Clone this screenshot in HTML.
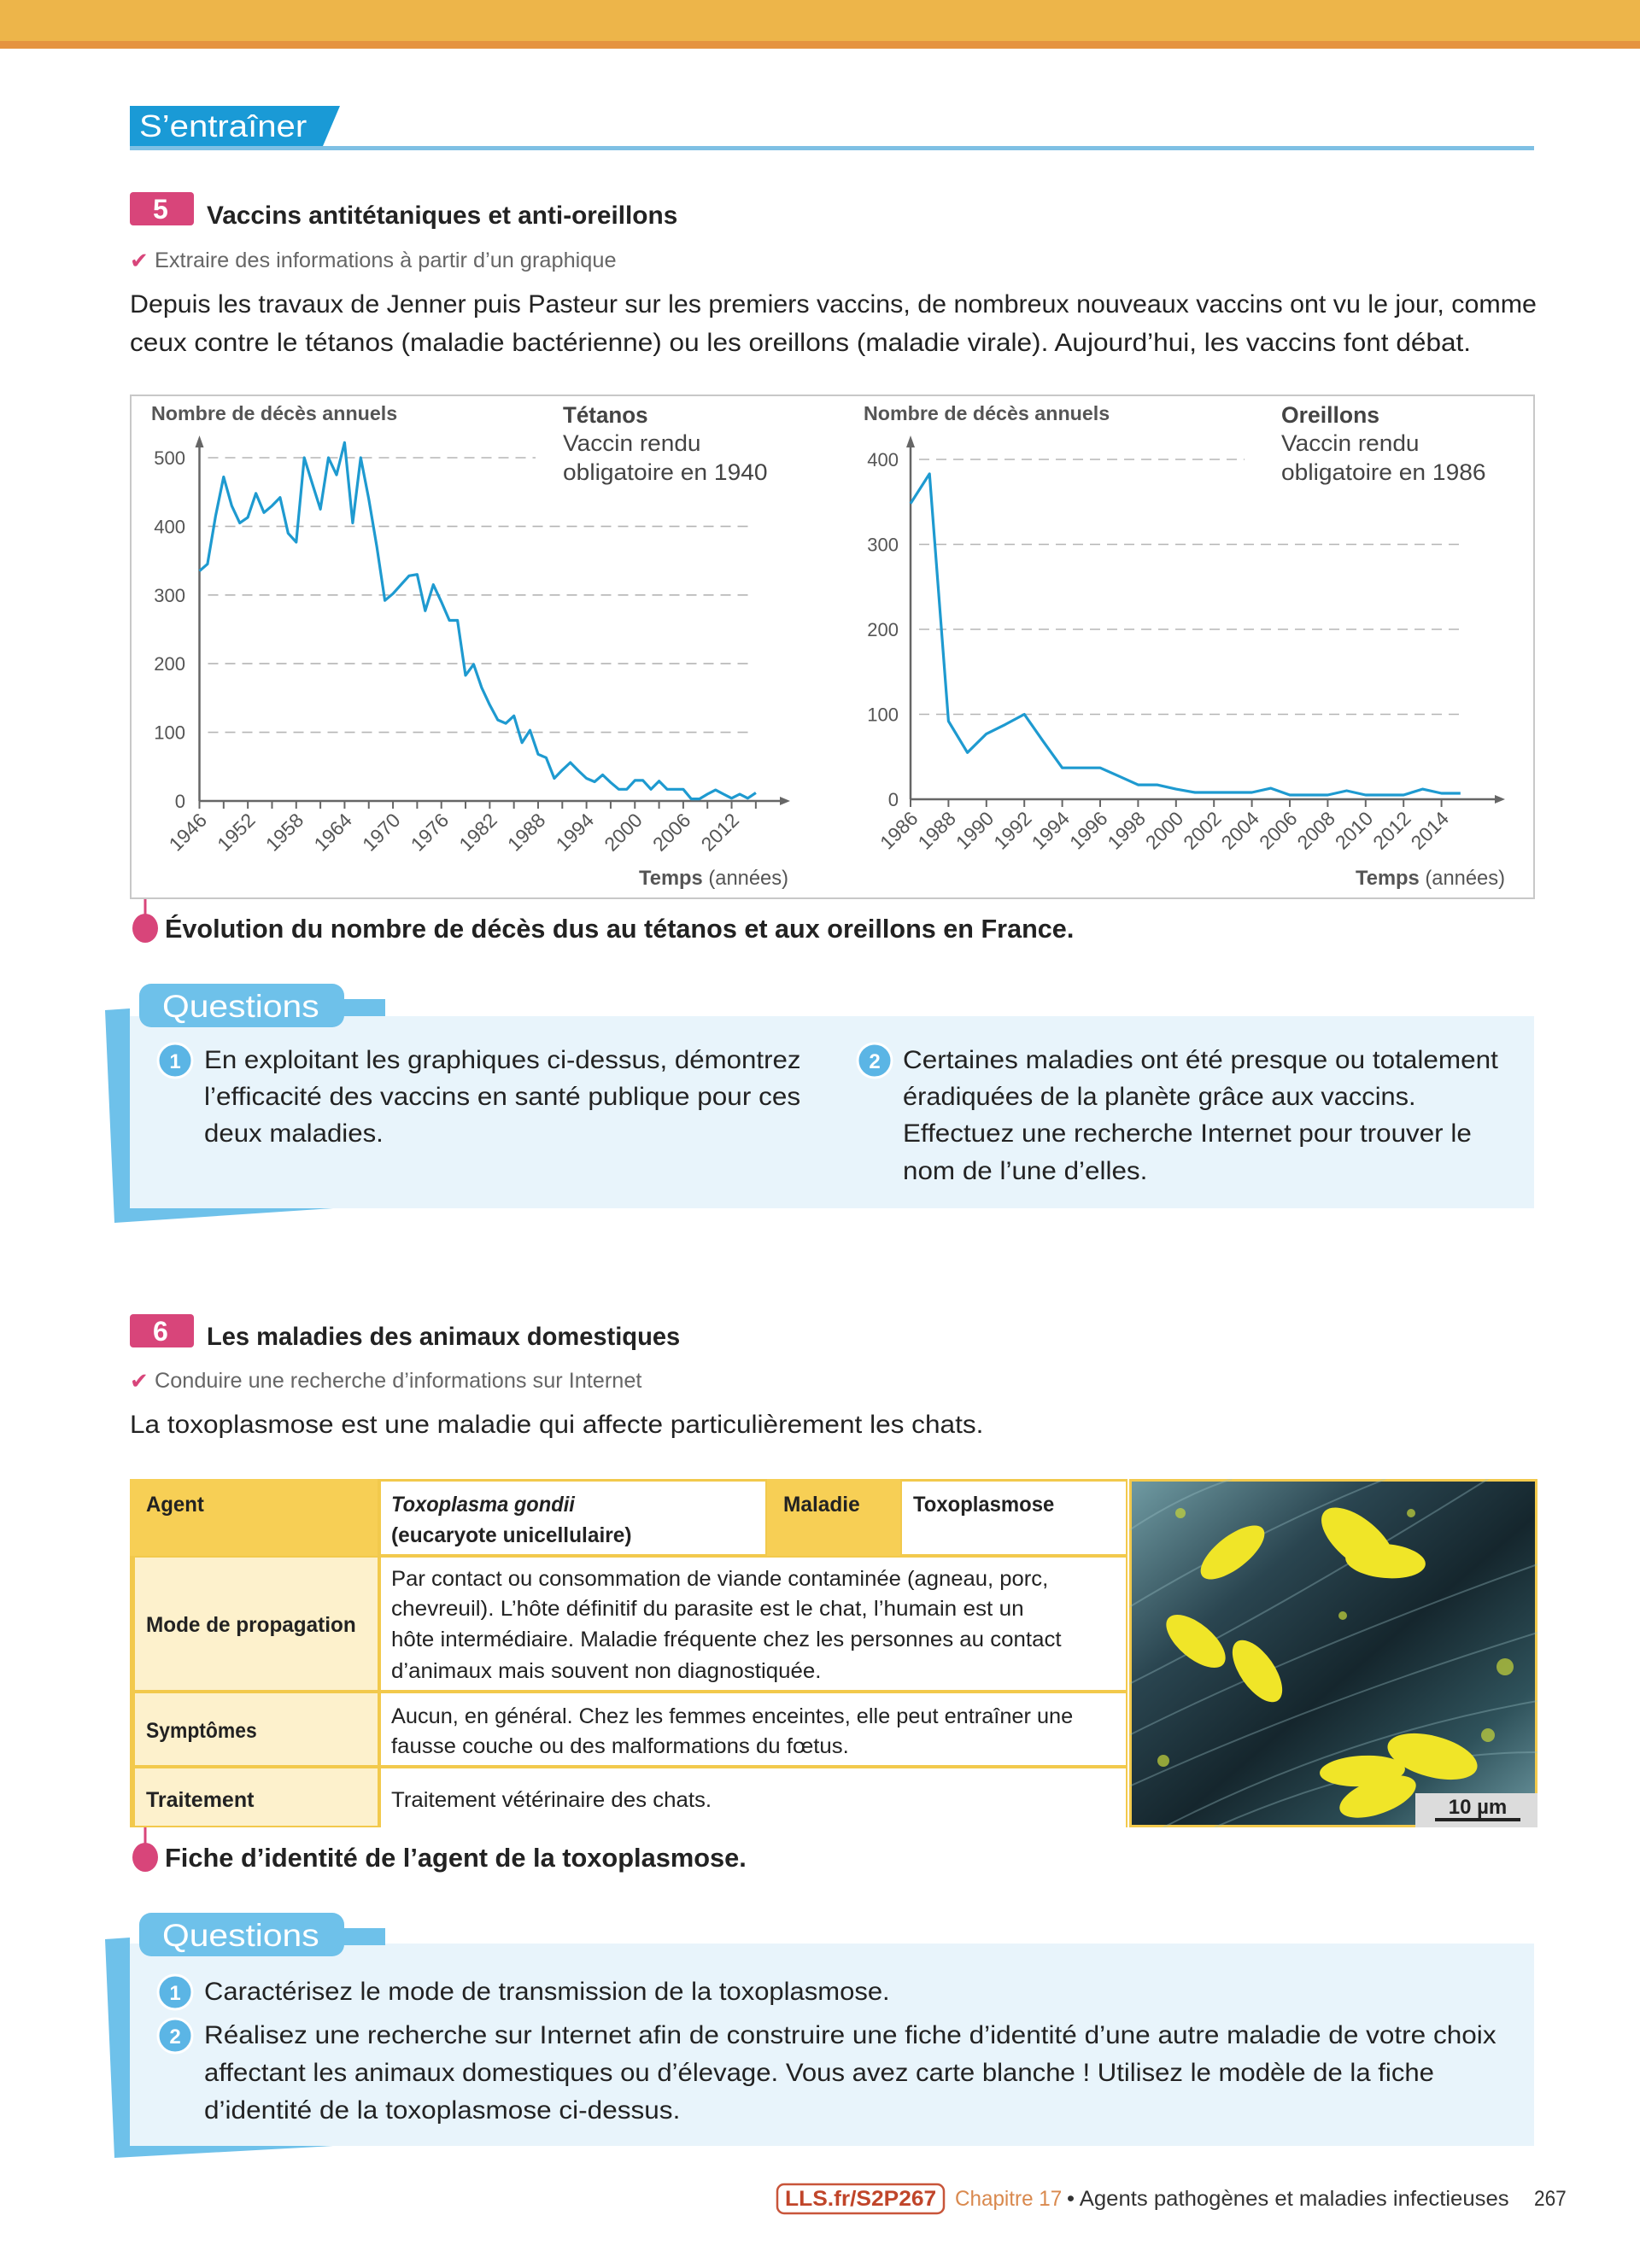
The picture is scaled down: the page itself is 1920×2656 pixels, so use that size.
<!DOCTYPE html>
<html><head><meta charset="utf-8">
<style>
*{margin:0;padding:0;box-sizing:border-box}
body{width:1920px;height:2656px;position:relative;background:#fff;font-family:"Liberation Sans",sans-serif;color:#222;overflow:hidden}
.t{position:absolute;white-space:nowrap;transform-origin:0 50%;line-height:1}
.b{font-weight:bold}
.abs{position:absolute}
</style></head><body>
<div class="abs" style="left:0;top:0;width:1920px;height:48px;background:#EDB54A"></div>
<div class="abs" style="left:0;top:48px;width:1920px;height:9px;background:#E59340"></div>

<svg class="abs" style="left:0;top:0" width="1920" height="2656">
  <polygon points="152,124 398,124 378,171 152,171" fill="#1A9AD6"/>
  <rect x="152" y="171" width="1644" height="5" fill="#7EC0E4"/>
  <rect x="152" y="225" width="75" height="39" rx="4" fill="#D8457A"/>
  <rect x="152" y="1539" width="75" height="39" rx="4" fill="#D8457A"/>
  <rect x="152" y="1190" width="1644" height="225" fill="#E8F4FB"/>
  <polygon points="123,1183 152,1181 152,1415 390,1415 134,1432" fill="#6EC1EA"/>
  <rect x="395" y="1170" width="56" height="20" fill="#6EC1EA"/>
  <rect x="163" y="1152" width="240" height="51" rx="14" fill="#6EC1EA"/>
  <rect x="152" y="2276" width="1644" height="237" fill="#E8F4FB"/>
  <polygon points="123,2271 152,2269 152,2513 390,2513 134,2527" fill="#6EC1EA"/>
  <rect x="395" y="2258" width="56" height="20" fill="#6EC1EA"/>
  <rect x="163" y="2240" width="240" height="51" rx="14" fill="#6EC1EA"/>
  <g fill="#5BB5E5" stroke="#fff" stroke-width="3">
    <circle cx="205" cy="1242" r="20"/>
    <circle cx="1024" cy="1242" r="20"/>
    <circle cx="205" cy="2333" r="20"/>
    <circle cx="205" cy="2384" r="20"/>
  </g>
  <g fill="#fff" font-family="Liberation Sans" font-weight="bold" font-size="24" text-anchor="middle">
    <text x="205" y="1251">1</text><text x="1024" y="1251">2</text>
    <text x="205" y="2342">1</text><text x="205" y="2393">2</text>
  </g>
  <line x1="170" y1="1052" x2="170" y2="1078" stroke="#D8457A" stroke-width="3"/>
  <ellipse cx="170" cy="1087" rx="15" ry="17" fill="#D8457A"/>
  <line x1="170" y1="2140" x2="170" y2="2166" stroke="#D8457A" stroke-width="3"/>
  <ellipse cx="170" cy="2175" rx="15" ry="17" fill="#D8457A"/>
  <rect x="910" y="2558" width="195" height="34" rx="8" fill="none" stroke="#C8553A" stroke-width="2.5"/>
  <rect x="153" y="463" width="1643" height="589" fill="none" stroke="#c8c8c8" stroke-width="2"/>
</svg>

<svg id="charts" class="abs" style="left:0;top:0" width="1920" height="1100"></svg>

<div class="t" style="left:163px;top:148px;font-size:36px;color:#fff" data-w="196">S’entraîner</div>
<div class="t b" style="left:179px;top:245px;font-size:32px;color:#fff">5</div>
<div class="t b" style="left:242px;top:253px;font-size:30px" data-w="551">Vaccins antitétaniques et anti-oreillons</div>
<div class="t" style="left:152px;top:305px;font-size:26px;color:#D8457A">✔</div>
<div class="t" style="left:181px;top:305px;font-size:25px;color:#666" data-w="541">Extraire des informations à partir d’un graphique</div>
<div class="t" style="left:152px;top:357px;font-size:30px" data-w="1647">Depuis les travaux de Jenner puis Pasteur sur les premiers vaccins, de nombreux nouveaux vaccins ont vu le jour, comme</div>
<div class="t" style="left:152px;top:402px;font-size:30px" data-w="1570">ceux contre le tétanos (maladie bactérienne) ou les oreillons (maladie virale). Aujourd’hui, les vaccins font débat.</div>

<div class="t b" style="left:177px;top:484px;font-size:23px;color:#555" data-w="288">Nombre de décès annuels</div>
<div class="t b" style="left:659px;top:486px;font-size:27px;color:#444" data-w="100">Tétanos</div>
<div class="t" style="left:659px;top:519px;font-size:27px;color:#444" data-w="162">Vaccin rendu</div>
<div class="t" style="left:659px;top:553px;font-size:27px;color:#444" data-w="240">obligatoire en 1940</div>
<div class="t" style="left:748px;top:1029px;font-size:24px;color:#555" data-w="175"><b>Temps</b> (années)</div>
<div class="t b" style="left:1011px;top:484px;font-size:23px;color:#555" data-w="288">Nombre de décès annuels</div>
<div class="t b" style="left:1500px;top:486px;font-size:27px;color:#444" data-w="115">Oreillons</div>
<div class="t" style="left:1500px;top:519px;font-size:27px;color:#444" data-w="162">Vaccin rendu</div>
<div class="t" style="left:1500px;top:553px;font-size:27px;color:#444" data-w="240">obligatoire en 1986</div>
<div class="t" style="left:1587px;top:1029px;font-size:24px;color:#555" data-w="175"><b>Temps</b> (années)</div>

<div class="t b" style="left:193px;top:1087px;font-size:31px" data-w="1064">Évolution du nombre de décès dus au tétanos et aux oreillons en France.</div>

<div class="t" style="left:190px;top:1178px;font-size:37px;color:#fff" data-w="184">Questions</div>
<div class="t" style="left:239px;top:1242px;font-size:30px" data-w="698">En exploitant les graphiques ci-dessus, démontrez</div>
<div class="t" style="left:239px;top:1285px;font-size:30px" data-w="698">l’efficacité des vaccins en santé publique pour ces</div>
<div class="t" style="left:239px;top:1328px;font-size:30px" data-w="210">deux maladies.</div>
<div class="t" style="left:1057px;top:1242px;font-size:30px" data-w="697">Certaines maladies ont été presque ou totalement</div>
<div class="t" style="left:1057px;top:1285px;font-size:30px" data-w="600">éradiquées de la planète grâce aux vaccins.</div>
<div class="t" style="left:1057px;top:1328px;font-size:30px" data-w="666">Effectuez une recherche Internet pour trouver le</div>
<div class="t" style="left:1057px;top:1372px;font-size:30px" data-w="287">nom de l’une d’elles.</div>

<div class="t b" style="left:179px;top:1559px;font-size:32px;color:#fff">6</div>
<div class="t b" style="left:242px;top:1566px;font-size:30px" data-w="554">Les maladies des animaux domestiques</div>
<div class="t" style="left:152px;top:1617px;font-size:26px;color:#D8457A">✔</div>
<div class="t" style="left:181px;top:1617px;font-size:25px;color:#666" data-w="570">Conduire une recherche d’informations sur Internet</div>
<div class="t" style="left:152px;top:1669px;font-size:30px" data-w="999">La toxoplasmose est une maladie qui affecte particulièrement les chats.</div>

<div class="abs" style="left:152px;top:1732px;width:1168px;height:408px;background:#F2C94C"></div>
<div class="abs" style="left:152px;top:1732px;width:290px;height:90px;background:#F7CF55"></div>
<div class="abs" style="left:446px;top:1735px;width:450px;height:85px;background:#fff"></div>
<div class="abs" style="left:898px;top:1732px;width:156px;height:90px;background:#F7CF55"></div>
<div class="abs" style="left:1056px;top:1735px;width:262px;height:85px;background:#fff"></div>
<div class="abs" style="left:158px;top:1824px;width:284px;height:155px;background:#FDF1CC"></div>
<div class="abs" style="left:446px;top:1824px;width:872px;height:155px;background:#fff"></div>
<div class="abs" style="left:158px;top:1983px;width:284px;height:84px;background:#FDF1CC"></div>
<div class="abs" style="left:446px;top:1983px;width:872px;height:84px;background:#fff"></div>
<div class="abs" style="left:158px;top:2071px;width:284px;height:67px;background:#FDF1CC"></div>
<div class="abs" style="left:446px;top:2071px;width:872px;height:69px;background:#fff"></div>

<div class="t b" style="left:171px;top:1762px;font-size:25px" data-w="68">Agent</div>
<div class="t b" style="left:458px;top:1762px;font-size:25px;font-style:italic" data-w="215">Toxoplasma gondii</div>
<div class="t b" style="left:458px;top:1798px;font-size:25px" data-w="282">(eucaryote unicellulaire)</div>
<div class="t b" style="left:917px;top:1762px;font-size:25px" data-w="90">Maladie</div>
<div class="t b" style="left:1069px;top:1762px;font-size:25px" data-w="165">Toxoplasmose</div>
<div class="t b" style="left:171px;top:1903px;font-size:25px" data-w="246">Mode de propagation</div>
<div class="t" style="left:458px;top:1849px;font-size:25px" data-w="769">Par contact ou consommation de viande contaminée (agneau, porc,</div>
<div class="t" style="left:458px;top:1884px;font-size:25px" data-w="741">chevreuil). L’hôte définitif du parasite est le chat, l’humain est un</div>
<div class="t" style="left:458px;top:1920px;font-size:25px" data-w="785">hôte intermédiaire. Maladie fréquente chez les personnes au contact</div>
<div class="t" style="left:458px;top:1957px;font-size:25px" data-w="503">d’animaux mais souvent non diagnostiquée.</div>
<div class="t b" style="left:171px;top:2027px;font-size:25px" data-w="130">Symptômes</div>
<div class="t" style="left:458px;top:2010px;font-size:25px" data-w="798">Aucun, en général. Chez les femmes enceintes, elle peut entraîner une</div>
<div class="t" style="left:458px;top:2045px;font-size:25px" data-w="536">fausse couche ou des malformations du fœtus.</div>
<div class="t b" style="left:171px;top:2108px;font-size:25px" data-w="126">Traitement</div>
<div class="t" style="left:458px;top:2108px;font-size:25px" data-w="375">Traitement vétérinaire des chats.</div>

<svg class="abs" style="left:1322px;top:1732px" width="478" height="408">
  <defs>
    <linearGradient id="bg" x1="0" y1="0" x2="1" y2="1">
      <stop offset="0" stop-color="#6f9aa2"/><stop offset="0.3" stop-color="#2a4550"/>
      <stop offset="0.55" stop-color="#15262d"/><stop offset="0.8" stop-color="#2f525b"/><stop offset="1" stop-color="#6c97a0"/>
    </linearGradient>
  </defs>
  <rect x="0" y="0" width="478" height="408" fill="#F2C94C"/>
  <rect x="3" y="3" width="472" height="402" fill="url(#bg)"/>
  <g stroke="#9cc3c8" stroke-width="2" opacity="0.35" fill="none">
    <path d="M0 300 Q200 200 478 100"/><path d="M0 360 Q220 260 478 180"/><path d="M40 408 Q250 300 478 260"/><path d="M0 150 Q150 60 300 0"/>
    <path d="M0 240 Q180 150 420 0"/><path d="M100 408 Q300 320 478 320"/><path d="M0 60 Q60 20 120 0"/>
  </g>
  <g fill="#c8d63a" opacity="0.7">
    <circle cx="420" cy="300" r="8"/><circle cx="440" cy="220" r="10"/><circle cx="60" cy="40" r="6"/><circle cx="330" cy="40" r="5"/><circle cx="250" cy="160" r="5"/><circle cx="40" cy="330" r="7"/>
  </g>
  <g fill="#F0E528">
    <ellipse cx="121" cy="86" rx="45" ry="19" transform="rotate(-38 121 86)"/>
    <ellipse cx="268" cy="72" rx="52" ry="25" transform="rotate(40 268 72)"/>
    <ellipse cx="300" cy="96" rx="47" ry="20" transform="rotate(5 300 96)"/>
    <ellipse cx="78" cy="190" rx="42" ry="20" transform="rotate(40 78 190)"/>
    <ellipse cx="150" cy="225" rx="42" ry="20" transform="rotate(55 150 225)"/>
    <ellipse cx="355" cy="325" rx="54" ry="24" transform="rotate(15 355 325)"/>
    <ellipse cx="273" cy="342" rx="50" ry="18" transform="rotate(-3 273 342)"/>
    <ellipse cx="291" cy="372" rx="47" ry="20" transform="rotate(-20 291 372)"/>
  </g>
  <rect x="335" y="368" width="143" height="40" fill="#dcdcdc"/>
  <rect x="358" y="397" width="100" height="4" fill="#222"/>
  <text x="408" y="392" text-anchor="middle" font-family="Liberation Sans" font-weight="bold" font-size="24" fill="#222">10 µm</text>
</svg>

<div class="t b" style="left:193px;top:2175px;font-size:31px" data-w="681">Fiche d’identité de l’agent de la toxoplasmose.</div>

<div class="t" style="left:190px;top:2266px;font-size:37px;color:#fff" data-w="184">Questions</div>
<div class="t" style="left:239px;top:2333px;font-size:30px" data-w="803">Caractérisez le mode de transmission de la toxoplasmose.</div>
<div class="t" style="left:239px;top:2384px;font-size:30px" data-w="1512">Réalisez une recherche sur Internet afin de construire une fiche d’identité d’une autre maladie de votre choix</div>
<div class="t" style="left:239px;top:2428px;font-size:30px" data-w="1440">affectant les animaux domestiques ou d’élevage. Vous avez carte blanche ! Utilisez le modèle de la fiche</div>
<div class="t" style="left:239px;top:2472px;font-size:30px" data-w="557">d’identité de la toxoplasmose ci-dessus.</div>

<div class="t b" style="left:919px;top:2575px;font-size:25px;color:#C0452A" data-w="177">LLS.fr/S2P267</div>
<div class="t" style="left:1118px;top:2575px;font-size:25px;color:#D9894E" data-w="125">Chapitre 17</div>
<div class="t" style="left:1249px;top:2575px;font-size:25px;color:#333" data-w="518">• Agents pathogènes et maladies infectieuses</div>
<div class="t" style="left:1796px;top:2575px;font-size:25px;color:#333" data-w="38">267</div>

<script>
const tetanusYears = [];
for (let y = 1946; y <= 2015; y++) tetanusYears.push(y);
const tetanusValues = [335,345,415,472,430,405,413,448,420,430,442,390,377,500,462,425,500,475,522,405,500,440,370,292,302,315,328,330,277,315,290,263,263,183,199,165,140,118,113,124,85,103,68,63,33,45,56,44,33,28,38,27,17,17,30,30,17,29,17,17,17,3,3,10,16,10,4,10,4,12];
const tetanusYTicks = [0,100,200,300,400,500];
const tetanusXLabels = [1946,1952,1958,1964,1970,1976,1982,1988,1994,2000,2006,2012];
const mumpsYears = [];
for (let y = 1986; y <= 2015; y++) mumpsYears.push(y);
const mumpsValues = [348,383,92,55,77,88,100,68,37,37,37,27,17,17,12,8,8,8,8,13,5,5,5,10,5,5,5,12,7,7];
const mumpsYTicks = [0,100,200,300,400];
const mumpsXLabels = [1986,1988,1990,1992,1994,1996,1998,2000,2002,2004,2006,2008,2010,2012,2014];

const NS = 'http://www.w3.org/2000/svg';
const svg = document.getElementById('charts');
function mk(tag, attrs, parent) {
  const e = document.createElementNS(NS, tag);
  for (const k in attrs) e.setAttribute(k, attrs[k]);
  (parent || svg).appendChild(e);
  return e;
}
function drawChart(cfg) {
  const X = v => cfg.x0 + (v - cfg.year0) * cfg.pxYear;
  const Y = v => cfg.y0 - v * cfg.px100 / 100;
  const g = mk('g', {});
  
  
  cfg.yTicks.forEach(t => {
    if (t > 0) {
      const gl = mk('line', {x1: cfg.x0 + 10, x2: t === cfg.yTicks[cfg.yTicks.length-1] ? cfg.topGridEnd : cfg.gridEnd, y1: Y(t), y2: Y(t), stroke: '#b5b5b5', 'stroke-width': 1.6, 'stroke-dasharray': '12 8'}, g);
      
      
    }
    const tx = mk('text', {x: cfg.yLabelX, y: Y(t) + 8, 'text-anchor': 'end', 'font-family': 'Liberation Sans', 'font-size': 22, fill: '#555'}, g);
    tx.textContent = t;
    
    
  });
  mk('line', {x1: cfg.x0, x2: cfg.x0, y1: cfg.y0, y2: 522, stroke: '#666', 'stroke-width': 2.5}, g);
  mk('polygon', {points: `${cfg.x0-5},524 ${cfg.x0+5},524 ${cfg.x0},510`, fill: '#666'}, g);
  mk('line', {x1: cfg.x0, x2: cfg.axisEnd - 10, y1: cfg.y0, y2: cfg.y0, stroke: '#666', 'stroke-width': 2.5}, g);
  mk('polygon', {points: `${cfg.axisEnd-12},${cfg.y0-5} ${cfg.axisEnd-12},${cfg.y0+5} ${cfg.axisEnd},${cfg.y0}`, fill: '#666'}, g);
  for (let yr = cfg.year0; yr <= cfg.tickEnd; yr += cfg.tickStep) {
    mk('line', {x1: X(yr), x2: X(yr), y1: cfg.y0, y2: cfg.y0 + 9, stroke: '#666', 'stroke-width': 2}, g);
  }
  cfg.xLabels.forEach(l => {
    const x = X(l) + 10, y = cfg.y0 + 24;
    const tx = mk('text', {x: x, y: y, 'text-anchor': 'end', 'font-family': 'Liberation Sans', 'font-size': 23, fill: '#555', transform: `rotate(-45 ${x} ${y})`}, g);
    tx.textContent = l;
    
    
  });
  const pts = cfg.years.map((yr, i) => X(yr).toFixed(1) + ',' + Y(cfg.values[i]).toFixed(1)).join(' ');
  const line = mk('polyline', {points: pts, fill: 'none', stroke: '#1E9AD0', 'stroke-width': 3.2, 'stroke-linejoin': 'round'}, g);
  
  
}
drawChart({name: 'tetanus-chart', x0: 233.5, year0: 1946, pxYear: 9.44, y0: 938, px100: 80.4,
  years: tetanusYears, values: tetanusValues, yTicks: tetanusYTicks, xLabels: tetanusXLabels,
  gridEnd: 882, topGridEnd: 627, yLabelX: 217, axisEnd: 925, tickStep: 3, tickEnd: 2015});
drawChart({name: 'mumps-chart', x0: 1066, year0: 1986, pxYear: 22.2, y0: 936, px100: 99.5,
  years: mumpsYears, values: mumpsValues, yTicks: mumpsYTicks, xLabels: mumpsXLabels,
  gridEnd: 1712, topGridEnd: 1457, yLabelX: 1052, axisEnd: 1762, tickStep: 2, tickEnd: 2015});

document.querySelectorAll('.t').forEach(el => {
  el.style.marginTop = (-el.offsetHeight / 2) + 'px';
  const w = parseFloat(el.getAttribute('data-w'));
  if (w) {
    const s = w / el.scrollWidth;
    el.style.transform = 'scaleX(' + s.toFixed(3) + ')';
  }
});
</script>
</body></html>
